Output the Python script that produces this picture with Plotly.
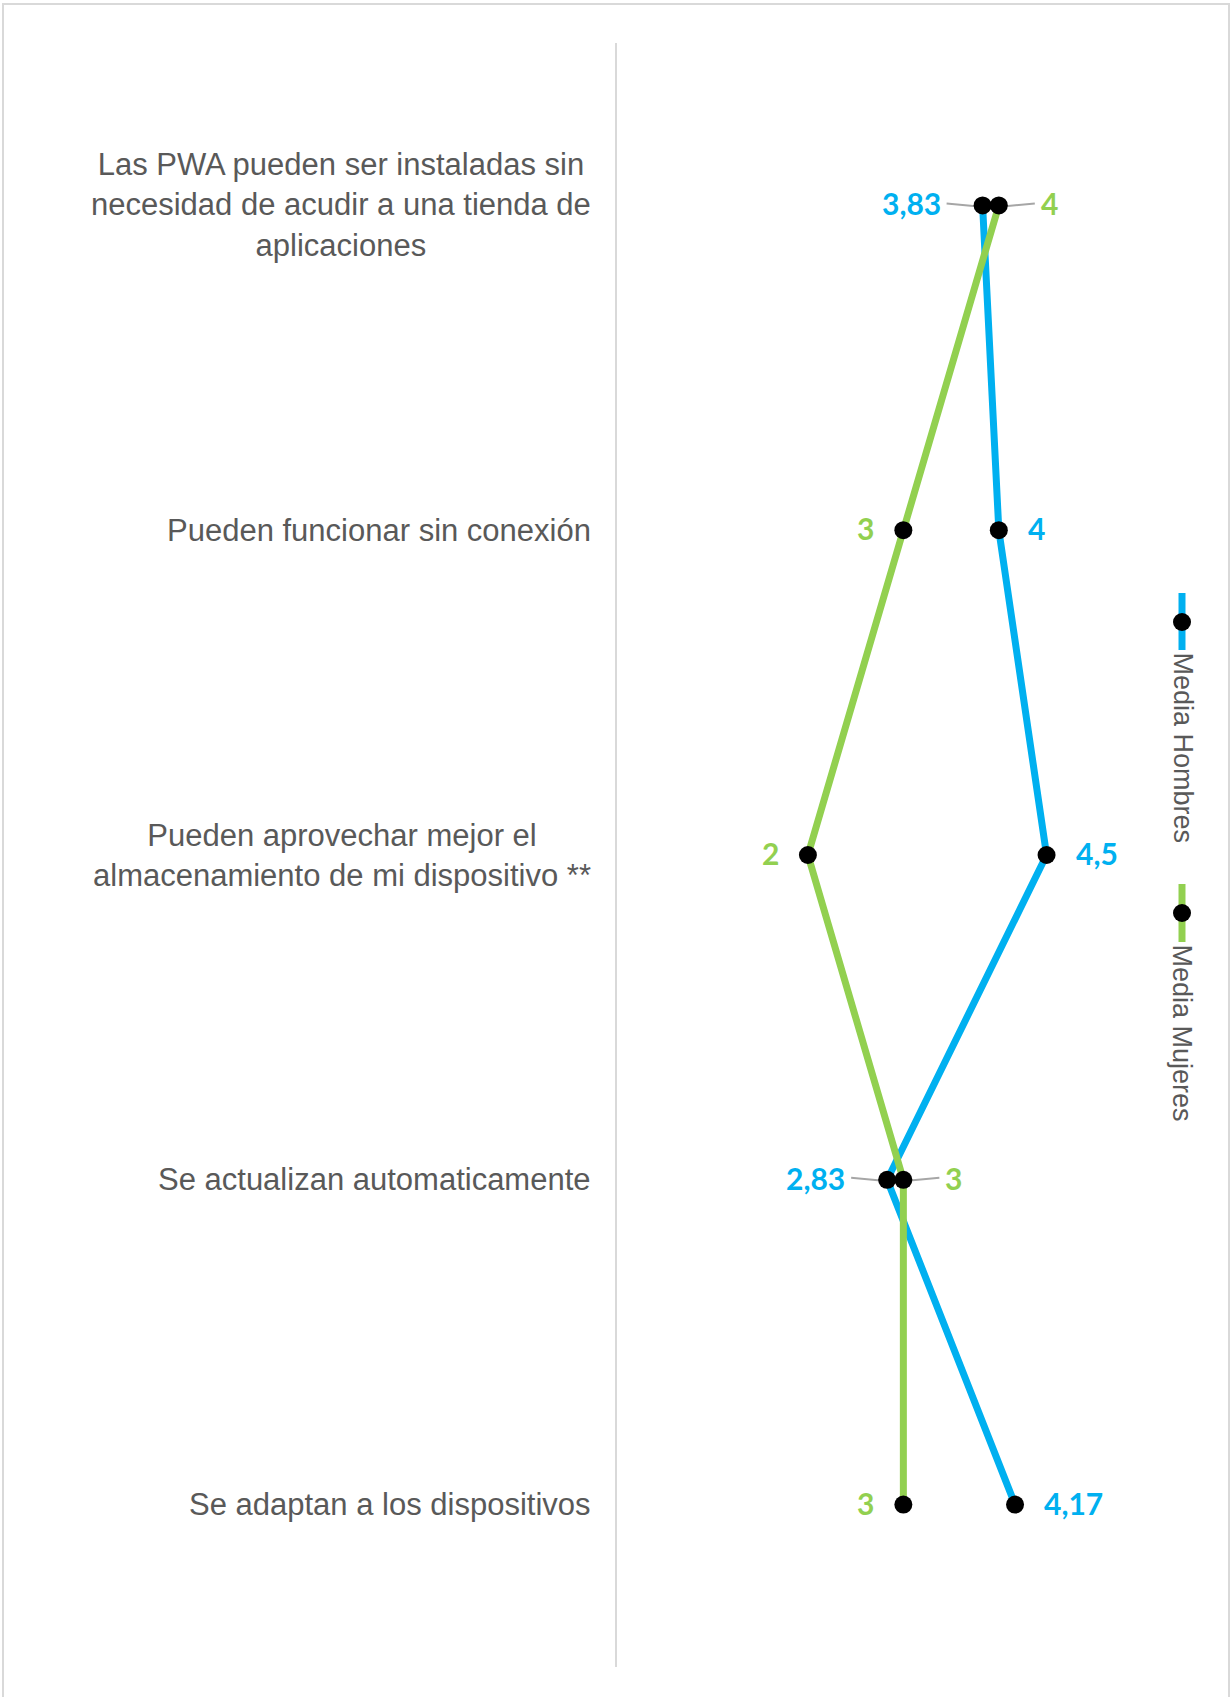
import plotly.graph_objects as go

# Survey statements (top to bottom) and mean scores by gender
categorias = [
    "Las PWA pueden ser instaladas sin<br>necesidad de acudir a una tienda de<br>aplicaciones",
    "Pueden funcionar sin conexión",
    "Pueden aprovechar mejor el<br>almacenamiento de mi dispositivo **",
    "Se actualizan automaticamente",
    "Se adaptan a los dispositivos",
]
media_hombres = [3.83, 4, 4.5, 2.83, 4.17]
media_mujeres = [4, 3, 2, 3, 3]
etiquetas_hombres = ["3,83", "4", "4,5", "2,83", "4,17"]
etiquetas_mujeres = ["4", "3", "2", "3", "3"]
# side of each data label: +1 right of the point, -1 left of it
lado_hombres = [-1, 1, 1, -1, 1]
lado_mujeres = [1, -1, -1, 1, -1]
# labels pushed away from overlapping points get a leader line
guia_hombres = [True, False, False, True, False]
guia_mujeres = [True, False, False, True, False]

AZUL = "#00B0F0"
VERDE = "#92D050"
GRIS_TEXTO = "#595959"
GRIS_LINEA = "#D9D9D9"

W, H = 1231, 1697
ML, MR, MT, MB = 617, 89, 43, 30
PW, PH = W - ML - MR, H - MT - MB


def px_x(p):
    return (p - ML) / PW


def px_y(p):
    return 1 - (p - MT) / PH


fig = go.Figure()
ys = list(range(len(categorias)))

# lines first, markers on top
fig.add_trace(go.Scatter(x=media_hombres, y=ys, mode="lines",
                         line=dict(color=AZUL, width=7), name="Media Hombres",
                         showlegend=False, hoverinfo="skip"))
fig.add_trace(go.Scatter(x=media_mujeres, y=ys, mode="lines",
                         line=dict(color=VERDE, width=7), name="Media Mujeres",
                         showlegend=False, hoverinfo="skip"))
for serie in (media_hombres, media_mujeres):
    fig.add_trace(go.Scatter(x=serie, y=ys, mode="markers",
                             marker=dict(color="black", size=18, line=dict(width=0)),
                             showlegend=False))

annotations = []
shapes = []

# category labels to the left of the axis
for i, cat in enumerate(categorias):
    annotations.append(dict(
        x=0, y=i, xref="paper", yref="y", text=cat, showarrow=False,
        xanchor="right", yanchor="middle", align="center", xshift=-24,
        font=dict(family="Liberation Sans, Arial", size=31, color=GRIS_TEXTO)))


def etiquetas(valores, textos, lados, guias, color):
    for i, (v, t, s, g) in enumerate(zip(valores, textos, lados, guias)):
        dist = 40 if g else 27
        annotations.append(dict(
            x=v, y=i, xref="x", yref="y", text=t, showarrow=False,
            xanchor="left" if s > 0 else "right", yanchor="middle",
            xshift=s * dist, yshift=2,
            font=dict(family="Lato, Carlito, sans-serif", size=30,
                      color=color, weight="bold")))
        if g:
            shapes.append(dict(
                type="line", xref="x", yref="y", xsizemode="pixel", ysizemode="pixel",
                xanchor=v, yanchor=i, x0=s * 36, x1=s * 4, y0=2, y1=-1,
                line=dict(color="#A6A6A6", width=2), layer="below"))


etiquetas(media_hombres, etiquetas_hombres, lado_hombres, guia_hombres, AZUL)
etiquetas(media_mujeres, etiquetas_mujeres, lado_mujeres, guia_mujeres, VERDE)

# chart frame
shapes.append(dict(type="rect", xref="paper", yref="paper",
                   x0=px_x(3), x1=px_x(1229), y0=px_y(1720), y1=px_y(4),
                   line=dict(color=GRIS_LINEA, width=2), layer="below"))

# vertical legend on the right
LEG_X = 1182
for color, (l0, l1), dot, nombre, (t0, t1) in [
    (AZUL, (593, 650), 622, "Media Hombres", (653, 842)),
    (VERDE, (884, 942), 913, "Media Mujeres", (945, 1120)),
]:
    shapes.append(dict(type="line", xref="paper", yref="paper",
                       x0=px_x(LEG_X), x1=px_x(LEG_X), y0=px_y(l0), y1=px_y(l1),
                       line=dict(color=color, width=7)))
    shapes.append(dict(type="circle", xref="paper", yref="paper",
                       x0=px_x(LEG_X - 9), x1=px_x(LEG_X + 9),
                       y0=px_y(dot - 9), y1=px_y(dot + 9),
                       fillcolor="black", line=dict(width=0)))
    annotations.append(dict(
        x=px_x(LEG_X), y=px_y((t0 + t1) / 2), xref="paper", yref="paper",
        text=nombre, textangle=90, showarrow=False,
        xanchor="center", yanchor="middle",
        font=dict(family="Liberation Sans, Arial", size=27, color=GRIS_TEXTO)))

fig.update_layout(
    width=W, height=H,
    margin=dict(l=ML, r=MR, t=MT, b=MB),
    paper_bgcolor="white", plot_bgcolor="white",
    xaxis=dict(range=[0, 5.5], visible=False, showgrid=False, zeroline=False),
    yaxis=dict(range=[len(categorias) - 0.5, -0.5], showgrid=False, zeroline=False,
               showticklabels=False, ticks="", showline=True,
               linecolor=GRIS_LINEA, linewidth=2),
    annotations=annotations, shapes=shapes,
    showlegend=False,
)

fig.write_html("out.html")
